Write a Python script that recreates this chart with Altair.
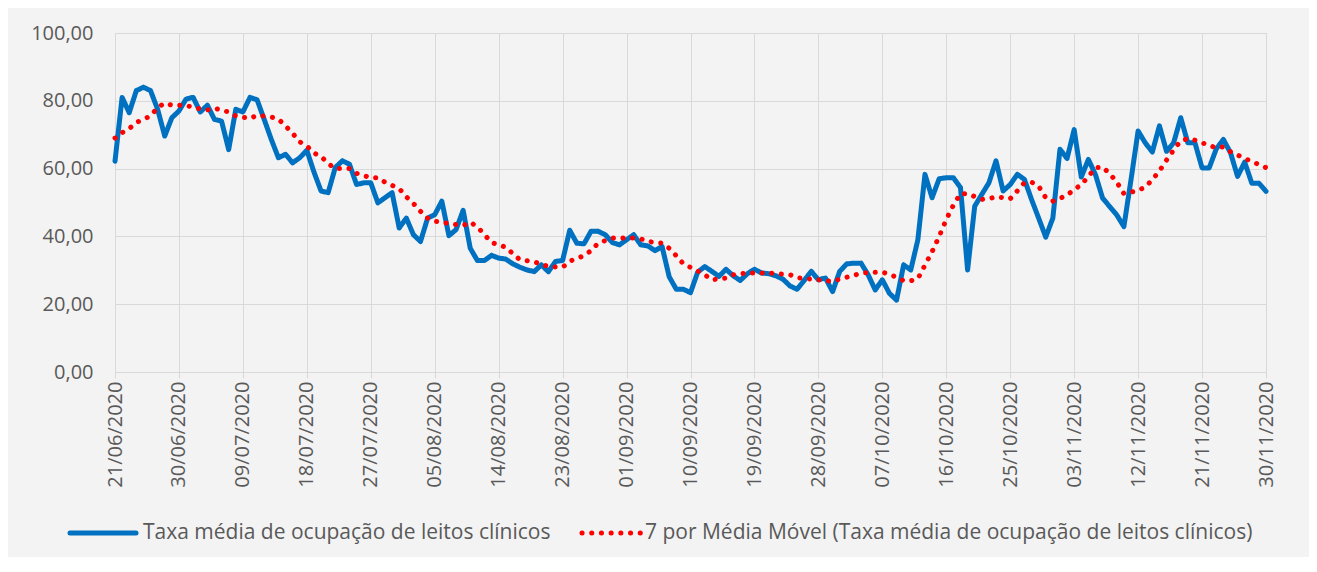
import altair as alt
import pandas as pd

# ---- data ----
occupancy = [
    62.2, 81.0, 76.5, 83.0, 84.0, 83.0, 77.5, 69.6, 75.0, 77.0,
    80.5, 81.0, 76.7, 78.7, 74.5, 74.0, 65.6, 77.5, 76.7, 81.0,
    80.3, 74.5, 68.6, 63.2, 64.2, 61.7, 63.2, 65.4, 59.0, 53.4,
    52.9, 60.3, 62.3, 61.3, 55.3, 55.8, 55.8, 49.9, 51.4, 52.9,
    42.5, 45.4, 40.5, 38.5, 45.4, 46.4, 50.4, 40.2, 42.0, 47.7,
    36.5, 32.9, 32.9, 34.4, 33.6, 33.3, 31.9, 30.9, 30.1, 29.6,
    31.6, 29.6, 32.6, 32.9, 41.8, 38.0, 37.8, 41.5, 41.5, 40.5,
    38.2, 37.5, 39.0, 40.5, 37.5, 37.2, 35.8, 37.0, 28.1, 24.4,
    24.4, 23.4, 29.4, 31.1, 29.7, 28.2, 30.3, 28.4, 27.0, 29.0,
    30.3, 29.2, 29.0, 28.4, 27.4, 25.4, 24.4, 27.0, 29.7, 27.2,
    27.7, 23.7, 29.7, 31.9, 32.1, 32.1, 28.7, 24.2, 27.2, 23.2,
    21.2, 31.6, 30.1, 39.0, 58.3, 51.4, 57.0, 57.3, 57.3, 54.4,
    30.1, 48.9, 52.4, 55.8, 62.3, 53.4, 55.3, 58.3, 56.8, 50.9,
    45.4, 39.8, 45.4, 65.7, 63.0, 71.5, 57.5, 62.7, 58.2, 51.3,
    48.8, 46.3, 42.9, 56.7, 71.1, 67.6, 64.9, 72.6, 65.1, 67.6,
    75.0, 67.6, 67.6, 60.2, 60.2, 65.8, 68.6, 64.7, 57.7, 61.9,
    55.7, 55.7, 53.3,
]

ma_days = [
    0, 1, 2, 3, 5, 6, 7, 8, 10, 11, 13, 14, 16, 17, 19, 20, 22, 23, 24, 25,
    26, 27, 28, 29, 30, 31, 33, 34, 36, 37, 38, 40, 41, 42, 43, 44, 45, 47, 49, 50,
    51, 52, 53, 55, 56, 57, 59, 60, 61, 63, 64, 66, 67, 68, 70, 71, 73, 74, 75, 77,
    78, 79, 80, 82, 83, 84, 86, 87, 89, 90, 92, 93, 95, 96, 98, 99, 101, 102, 104, 105,
    107, 108, 110, 111, 112, 113, 114, 115, 116, 117, 118, 119, 120, 122, 123, 124, 126, 127, 128, 129,
    130, 131, 132, 134, 135, 136, 137, 138, 139, 140, 141, 142, 144, 145, 146, 147, 148, 149, 150, 151,
    152, 153, 155, 156, 157, 159, 160, 162,
]
ma_values = [
    69.0, 70.6, 71.8, 73.6, 75.5, 78.0, 79.3, 78.7, 78.7, 78.0, 77.3, 77.8, 76.7, 75.5, 74.8, 75.7, 75.2, 74.6, 72.6, 70.4,
    67.9, 66.7, 64.6, 63.6, 61.5, 60.0, 60.0, 58.6, 57.3, 57.3, 56.0, 54.1, 51.7, 49.7, 47.4, 45.4, 44.5, 43.8, 43.2, 44.2,
    42.8, 40.5, 38.2, 36.8, 34.9, 33.1, 32.5, 31.8, 31.1, 30.9, 32.7, 34.3, 35.8, 38.0, 39.5, 39.5, 39.5, 39.3, 38.5, 38.0,
    36.5, 34.3, 31.9, 29.8, 28.7, 27.2, 27.7, 28.7, 29.2, 29.2, 29.2, 29.0, 28.7, 27.8, 27.4, 27.2, 26.7, 27.4, 28.5, 29.2,
    29.4, 29.5, 28.0, 26.9, 26.9, 27.5, 31.5, 35.5, 40.0, 45.0, 49.2, 52.6, 52.6, 50.9, 51.1, 51.7, 51.1, 53.4, 55.8, 56.0,
    54.8, 51.4, 50.4, 52.1, 53.9, 55.2, 57.7, 60.2, 60.5, 58.5, 56.0, 52.6, 53.5, 54.6, 56.7, 59.3, 62.5, 65.5, 68.2, 68.8,
    68.4, 67.6, 66.1, 66.4, 65.0, 63.0, 62.1, 60.3,
]

tick_days = [0, 9, 18, 27, 36, 45, 54, 63, 72, 81, 90, 99, 108, 117, 126, 135, 144, 153, 162]
tick_labels = [
    "21/06/2020", "30/06/2020", "09/07/2020", "18/07/2020", "27/07/2020", "05/08/2020",
    "14/08/2020", "23/08/2020", "01/09/2020", "10/09/2020", "19/09/2020", "28/09/2020",
    "07/10/2020", "16/10/2020", "25/10/2020", "03/11/2020", "12/11/2020", "21/11/2020",
    "30/11/2020",
]
y_ticks = [0, 20, 40, 60, 80, 100]

S1 = "Taxa média de ocupação de leitos clínicos"
S2 = "7 por Média Móvel (Taxa média de ocupação de leitos clínicos)"
BLUE = "#0070C0"
RED = "#FF0000"

dates = pd.date_range("2020-06-21", periods=len(occupancy), freq="D").strftime("%d/%m/%Y")
df1 = pd.DataFrame({"dia": list(range(len(occupancy))), "data": dates, "valor": occupancy, "serie": S1})
df2 = pd.DataFrame({"dia": ma_days, "valor": ma_values, "serie": S2})
df = pd.concat([df1, df2], ignore_index=True)

label_expr = "[" + ",".join(f"'{t}'" for t in tick_labels) + "][round(datum.value / 9)]"

FONT = "Open Sans"
GRID = "#D9D9D9"
TXT = "#595959"

x_enc = alt.X(
    "dia:Q",
    scale=alt.Scale(domain=[0, 162], nice=False, zero=False),
    axis=alt.Axis(
        title=None, values=tick_days, labelExpr=label_expr, labelAngle=-90,
        labelFontSize=20, labelColor=TXT, labelPadding=3,
        domainColor=GRID, tickColor=GRID, tickSize=6,
        gridColor=GRID, labelFont=FONT,
    ),
)
y_enc = alt.Y(
    "valor:Q",
    scale=alt.Scale(domain=[0, 100], nice=False),
    axis=alt.Axis(
        title=None, values=y_ticks,
        labelExpr="replace(format(datum.value, '.2f'), '.', ',')",
        labelFontSize=20, labelColor=TXT, labelPadding=22, ticks=False,
        domain=False, gridColor=GRID, labelFont=FONT,
    ),
)

lines = (
    alt.Chart(df)
    .mark_line(strokeWidth=5, strokeCap="round", strokeJoin="round")
    .encode(
        x=x_enc,
        y=y_enc,
        color=alt.Color("serie:N", scale=alt.Scale(domain=[S1, S2], range=[BLUE, RED]), legend=None),
        strokeDash=alt.StrokeDash(
            "serie:N", scale=alt.Scale(domain=[S1, S2], range=[[1, 0], [0.1, 9.5]]), legend=None
        ),
    )
)

# ---- legend (drawn below the plot) ----
leg_data = pd.DataFrame({"serie": [S1]})
LEG_Y = 500
leg_blue = alt.Chart(leg_data).mark_rule(strokeWidth=5, strokeCap="round", color=BLUE).encode(
    x=alt.value(-45), x2=alt.value(21), y=alt.value(LEG_Y)
)
leg_blue_txt = alt.Chart(leg_data).mark_text(
    align="left", baseline="middle", fontSize=21, font=FONT, color=TXT
).encode(x=alt.value(28), y=alt.value(LEG_Y), text=alt.value(S1))
leg_red = alt.Chart(leg_data).mark_rule(
    strokeWidth=5, strokeCap="round", strokeDash=[0.1, 9.6], color=RED
).encode(x=alt.value(467), x2=alt.value(526), y=alt.value(LEG_Y))
leg_red_txt = alt.Chart(leg_data).mark_text(
    align="left", baseline="middle", fontSize=21, font=FONT, color=TXT
).encode(x=alt.value(530), y=alt.value(LEG_Y), text=alt.value(S2))

chart = (
    alt.layer(lines, leg_blue, leg_blue_txt, leg_red, leg_red_txt)
    .properties(
        width=1151,
        height=339,
        autosize=alt.AutoSizeParams(type="none"),
        padding={"left": 107, "top": 25, "right": 43, "bottom": 185},
        background="#F3F3F3",
    )
    .configure_view(stroke=None)
    .configure(font=FONT)
)

chart.save("out.html", embed_options={"renderer": "svg", "actions": False})
